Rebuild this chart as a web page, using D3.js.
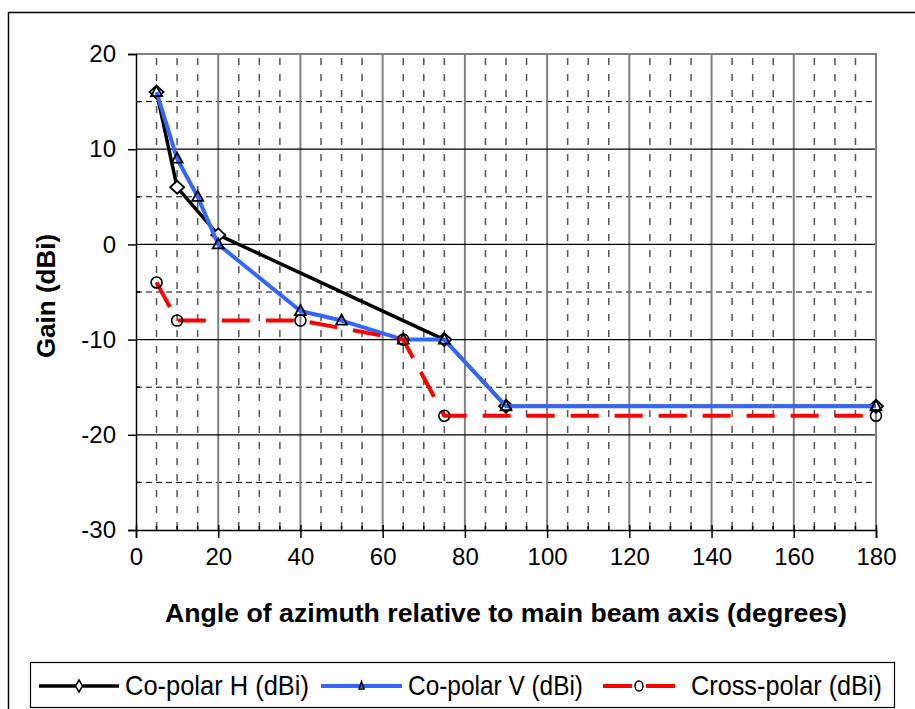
<!DOCTYPE html>
<html>
<head>
<meta charset="utf-8">
<script src="https://cdn.jsdelivr.net/npm/d3@7"></script>
<style>
  body { margin: 0; background: #fff; }
  svg { display: block; font-family: "Liberation Sans", Arial, sans-serif; }
</style>
</head>
<body>
<div id="chart"></div>
<script>
var width = 915,
    height = 709;

// data
var hAngles = [5, 10, 20, 75, 90, 180],
    hGain = [16, 6, 1, -10, -17, -17];
var vAngles = [5, 10, 15, 20, 40, 50, 65, 75, 90, 180],
    vGain = [16, 9, 5, 0, -7, -8, -10, -10, -17, -17];
var xAngles = [5, 10, 40, 65, 75, 180],
    xGain = [-4, -8, -8, -10, -18, -18];
var xTicks = [0, 20, 40, 60, 80, 100, 120, 140, 160, 180],
    yTicks = [20, 10, 0, -10, -20, -30];
var seriesNames = ['Co-polar H (dBi)', 'Co-polar V (dBi)', 'Cross-polar (dBi)'];

var plotL = 136, plotR = 876, plotT = 54, plotB = 530;

var x = d3.scaleLinear().domain([0, 180]).range([plotL, plotR]);
var y = d3.scaleLinear().domain([-30, 20]).range([plotB, plotT]);

var svg = d3.select('#chart').append('svg')
    .attr('width', width)
    .attr('height', height);

// outer frame (runs off the picture on right and bottom)
svg.append('rect')
    .attr('x', 8.5).attr('y', 12.5)
    .attr('width', 1000).attr('height', 1000)
    .attr('fill', 'none').attr('stroke', '#000').attr('stroke-width', 1.5);

var grid = svg.append('g');

// minor vertical grid every 5 degrees
var minorX = d3.range(5, 180, 5).filter(function(d) { return d % 20 != 0; });
grid.selectAll('.vminor')
    .data(minorX)
    .enter().append('line')
    .attr('x1', function(d) { return x(d); })
    .attr('x2', function(d) { return x(d); })
    .attr('y1', plotT + 4).attr('y2', plotB)
    .attr('stroke', '#555').attr('stroke-width', 1.5)
    .attr('stroke-dasharray', '7,9');

// minor horizontal grid every 5 dB
var minorY = [15, 5, -5, -15, -25];
grid.selectAll('.hminor')
    .data(minorY)
    .enter().append('line')
    .attr('x1', plotL).attr('x2', plotR)
    .attr('y1', function(d) { return y(d); })
    .attr('y2', function(d) { return y(d); })
    .attr('stroke', '#000').attr('stroke-width', 1)
    .attr('stroke-dasharray', '6,4');

// major vertical grid
grid.selectAll('.vmajor')
    .data(xTicks.slice(1, -1))
    .enter().append('line')
    .attr('x1', function(d) { return x(d); })
    .attr('x2', function(d) { return x(d); })
    .attr('y1', plotT).attr('y2', plotB)
    .attr('stroke', '#808080').attr('stroke-width', 2);

// major horizontal grid
grid.selectAll('.hmajor')
    .data(yTicks.slice(1, -1))
    .enter().append('line')
    .attr('x1', plotL).attr('x2', plotR)
    .attr('y1', function(d) { return y(d); })
    .attr('y2', function(d) { return y(d); })
    .attr('stroke', '#000').attr('stroke-width', 1.2);

// plot border (top and right grey)
svg.append('path')
    .attr('d', 'M' + plotL + ',' + plotT + 'H' + plotR + 'V' + plotB)
    .attr('fill', 'none').attr('stroke', '#808080').attr('stroke-width', 2);

// axes
var yAxis = svg.append('g')
    .attr('transform', 'translate(' + plotL + ',0)')
    .call(d3.axisLeft(y).tickValues(yTicks).tickSize(8).tickPadding(12)
        .tickFormat(function(d) { return String(d); }));
yAxis.select('.domain').attr('stroke', '#000').attr('stroke-width', 1.5);
yAxis.selectAll('.tick line').attr('stroke-width', 1.5);
yAxis.selectAll('text').attr('font-size', 24).attr('fill', '#000')
    .attr('font-family', '"Liberation Sans", Arial, sans-serif');
yAxis.selectAll('.minor')
    .data(minorY).enter().append('line')
    .attr('x1', 0).attr('x2', 4)
    .attr('y1', function(d) { return y(d); })
    .attr('y2', function(d) { return y(d); })
    .attr('stroke', '#000').attr('stroke-width', 1.5);

var xAxis = svg.append('g')
    .attr('transform', 'translate(0,' + plotB + ')')
    .call(d3.axisBottom(x).tickValues(xTicks).tickSize(8).tickPadding(10));
xAxis.select('.domain').attr('stroke', '#000').attr('stroke-width', 1.5);
xAxis.selectAll('.tick line').attr('y1', -5).attr('stroke-width', 1.5);
xAxis.selectAll('text').attr('font-size', 24).attr('fill', '#000')
    .attr('font-family', '"Liberation Sans", Arial, sans-serif');
xAxis.selectAll('.minor')
    .data(minorX).enter().append('line')
    .attr('x1', function(d) { return x(d); })
    .attr('x2', function(d) { return x(d); })
    .attr('y1', 0).attr('y2', -4)
    .attr('stroke', '#000').attr('stroke-width', 1.5);

// axis titles
svg.append('text')
    .attr('x', 506)
    .attr('y', 622)
    .attr('text-anchor', 'middle')
    .attr('font-size', 26).attr('font-weight', 'bold')
    .attr('textLength', 682)
    .attr('lengthAdjust', 'spacingAndGlyphs')
    .text('Angle of azimuth relative to main beam axis (degrees)');

svg.append('text')
    .attr('transform', 'translate(55,296) rotate(-90)')
    .attr('text-anchor', 'middle')
    .attr('font-size', 26).attr('font-weight', 'bold')
    .text('Gain (dBi)');

// series
var line = d3.line()
    .x(function(d) { return x(d[0]); })
    .y(function(d) { return y(d[1]); });

var hData = d3.zip(hAngles, hGain),
    vData = d3.zip(vAngles, vGain),
    cData = d3.zip(xAngles, xGain);

var diamond = 'M0,-6.5L7,0L0,6.5L-7,0Z',
    triangle = 'M0,-6L5.5,4L-5.5,4Z';

function drawSeries(data, color, w, dash, marker, fill) {
  var g = svg.append('g');
  g.append('path')
      .attr('d', line(data))
      .attr('fill', 'none')
      .attr('stroke', color)
      .attr('stroke-width', w)
      .attr('stroke-dasharray', dash)
      .attr('stroke-linejoin', 'round');
  if (marker == 'circle') {
    g.selectAll('circle').data(data).enter().append('circle')
        .attr('cx', function(d) { return x(d[0]); })
        .attr('cy', function(d) { return y(d[1]); })
        .attr('r', 5.5)
        .attr('fill', fill).attr('stroke', '#000').attr('stroke-width', 1.6);
  } else {
    g.selectAll('.m').data(data).enter().append('path')
        .attr('d', marker)
        .attr('transform', function(d) { return 'translate(' + x(d[0]) + ',' + y(d[1]) + ')'; })
        .attr('fill', fill).attr('stroke', '#000').attr('stroke-width', 1.8);
  }
}

drawSeries(hData, '#000', 3.5, null, diamond, '#fff');
drawSeries(vData, '#3366ff', 4, null, triangle, 'none');
drawSeries(cData, '#ff0000', 4, '28,16', 'circle', 'none');

// legend
var lg = svg.append('g');
lg.append('rect')
    .attr('x', 30.5).attr('y', 662.5)
    .attr('width', 864).attr('height', 45)
    .attr('fill', '#fff').attr('stroke', '#000').attr('stroke-width', 1.2);

var legendItems = [
  {name: seriesNames[0], x0: 39, x1: 119, tx: 125, tw: 184, color: '#000', w: 3.5, dash: null, marker: 'M0,-6L3.5,0L0,6L-3.5,0Z', fill: '#fff'},
  {name: seriesNames[1], x0: 321, x1: 402, tx: 408, tw: 175, color: '#3366ff', w: 4, dash: null, marker: 'M0,-4.5L2.5,3L-2.5,3Z', fill: 'none'},
  {name: seriesNames[2], x0: 603, x1: 675, tx: 691, tw: 191, color: '#ff0000', w: 4, dash: '29,14', marker: 'circle', fill: 'none'}
];

var li = lg.selectAll('.item').data(legendItems).enter().append('g');
li.append('line')
    .attr('x1', function(d) { return d.x0; })
    .attr('x2', function(d) { return d.x1; })
    .attr('y1', 686).attr('y2', 686)
    .attr('stroke', function(d) { return d.color; })
    .attr('stroke-width', function(d) { return d.w; })
    .attr('stroke-dasharray', function(d) { return d.dash; });
li.each(function(d) {
  var cx = (d.x0 + d.x1) / 2, g = d3.select(this);
  if (d.marker == 'circle') {
    g.append('ellipse').attr('cx', cx).attr('cy', 686).attr('rx', 4).attr('ry', 5)
        .attr('fill', 'none').attr('stroke', '#000').attr('stroke-width', 1.5);
  } else {
    g.append('path').attr('d', d.marker)
        .attr('transform', 'translate(' + cx + ',686)')
        .attr('fill', d.fill).attr('stroke', '#000').attr('stroke-width', 1.5);
  }
});
li.append('text')
    .attr('x', function(d) { return d.tx; })
    .attr('y', 695)
    .attr('font-size', 28)
    .attr('textLength', function(d) { return d.tw; })
    .attr('lengthAdjust', 'spacingAndGlyphs')
    .text(function(d) { return d.name; });
</script>
</body>
</html>
